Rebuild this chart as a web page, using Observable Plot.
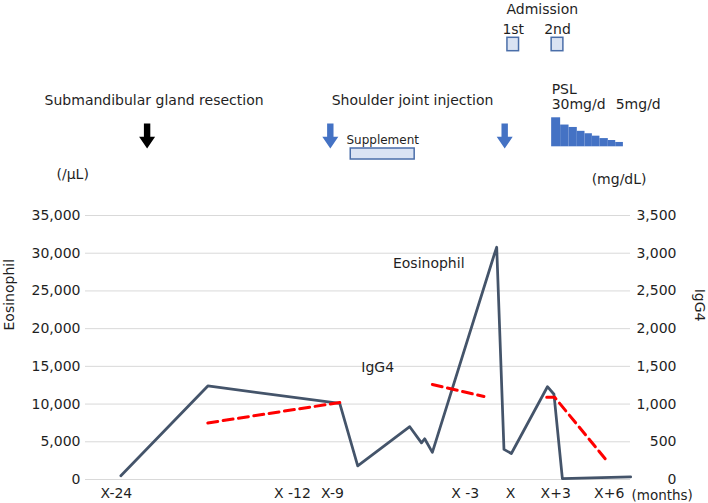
<!DOCTYPE html>
<html><head><meta charset="utf-8">
<script src="https://cdn.jsdelivr.net/npm/d3@7"></script>
<script src="https://cdn.jsdelivr.net/npm/@observablehq/plot@0.6"></script>
<style>
body{margin:0;background:#fff;}
#chart{width:708px;height:503px;}
#chart svg{display:block;}
</style></head><body><div id="chart"></div>
<script>
// ---- Data (time position t = months relative to X, as laid out along the chart's axis) ----
const eosT      = [-26.86, -20.86, -11.76, -10.52, -6.93, -6.12, -5.90, -5.37, -1.12, -0.93, -0.43, 0.08, 2.57, 3.02, 3.60, 8.31];
const eosValues = [500, 12400, 10100, 1800, 7000, 4850, 5400, 3600, 29700, 30800, 4000, 3450, 12300, 11300, 130, 350];

const iggSegment = [1, 1, 2, 2, 3, 3, 3];
const iggT       = [-20.86, -11.76, -5.37, -1.81, 2.52, 3.07, 6.66];
const iggValues  = [750, 1020, 1260, 1100, 1090, 1090, 250];

const eosTicks = [0, 5000, 10000, 15000, 20000, 25000, 30000, 35000];
const iggTicks = [0, 500, 1000, 1500, 2000, 2500, 3000, 3500];
const xTickPos    = [-27.17, -15.02, -12.26, -3.1, 0.03, 3.14, 6.83];
const xTickLabels = ["X-24", "X -12", "X-9", "X -3", "X", "X+3", "X+6"];
const xDomain = [-29.3, 8.3];

const seriesLabelText = ["Eosinophil", "IgG4"];
const seriesLabelT    = [-5.62, -9.14];
const seriesLabelEos  = [28680, 14890];

// Clinical events
const resectionLabel = "Submandibular gland resection";
const resectionT = [-25.05];
const injectionLabel = "Shoulder joint injection";
const injectionT = [-12.41, -0.38];
const supplementLabel = "Supplement";
const supplementStart = [-11.0];
const supplementEnd   = [-6.59];
const admissionLabels = ["1st", "2nd"];
const admissionStart  = [-0.19, 2.86];
const admissionEnd    = [0.61, 3.67];
const pslDose  = [30, 22.5, 20, 16, 13.5, 11, 8.5, 6.5, 4.5];
const pslStart = [2.86, 3.48, 4.06, 4.63, 5.16, 5.67, 6.19, 6.77, 7.28];
const pslEnd   = [3.48, 4.06, 4.63, 5.16, 5.67, 6.19, 6.77, 7.28, 7.81];
const pslLabels = ["30mg/d", "5mg/d"];

// ---- Layout / style ----
const FONT = "DejaVu Sans, sans-serif";
const INK = "#1f1f1f";
const W = 708, ML = 85, MR = 78;
const ratio = 35000 / 3500;
const fmt = d3.format(",");
const rows = {admTitle: 13.3, admLabel: 33.3, admBox: [37.3, 50.7], pslTitle: 93.5, eventLabel: 104,
  pslDoseLabel: 108, arrow: 135.5, suppLabel: 143.5, suppBox: [148, 159], pslBase: 146.3, pslScale: 0.967};

const eos = eosT.map((t, i) => ({t, v: eosValues[i]}));
const igg = iggT.map((t, i) => ({t, v: iggValues[i], seg: iggSegment[i]}));
const seriesLabels = seriesLabelText.map((s, i) => ({s, t: seriesLabelT[i], v: seriesLabelEos[i]}));
const tickLabelOf = new Map(xTickPos.map((p, i) => [p, xTickLabels[i]]));

const arrowSym = {
  draw(ctx) {
    ctx.moveTo(-3.2, -12.5); ctx.lineTo(3.2, -12.5); ctx.lineTo(3.2, 0.8); ctx.lineTo(8, 0.8);
    ctx.lineTo(0, 12.5); ctx.lineTo(-8, 0.8); ctx.lineTo(-3.2, 0.8); ctx.closePath();
  }
};

// ---- Top annotation panel ----
const psl = pslDose.map((d, i) => ({d, x1: pslStart[i], x2: pslEnd[i]}));
const adm = admissionLabels.map((l, i) => ({l, x1: admissionStart[i], x2: admissionEnd[i]}));
const supp = supplementStart.map((s, i) => ({x1: s, x2: supplementEnd[i]}));

const topPanel = Plot.plot({
  width: W, height: 160, marginTop: 0, marginBottom: 0, marginLeft: ML, marginRight: MR,
  style: {fontFamily: FONT, fontSize: "14px", color: INK, background: "white", overflow: "visible"},
  x: {domain: xDomain, axis: null},
  y: {domain: [0, 160], reverse: true, axis: null},
  marks: [
    Plot.text([admissionStart[0]], {x: d => d, y: rows.admTitle, text: () => "Admission", textAnchor: "start", lineAnchor: "bottom", dx: -1, fontSize: 14, fill: INK}),
    Plot.text(adm, {x: d => (d.x1 + d.x2) / 2, y: rows.admLabel, text: "l", lineAnchor: "bottom", fontSize: 14, fill: INK}),
    Plot.rect(adm, {x1: "x1", x2: "x2", y1: rows.admBox[0], y2: rows.admBox[1], fill: "#DAE3F3", stroke: "#4A6EA9", strokeWidth: 1.5}),
    Plot.text([pslStart[0]], {x: d => d, y: rows.pslTitle, text: () => "PSL", textAnchor: "start", lineAnchor: "bottom", fontSize: 14, fill: INK}),
    Plot.text([pslStart[0], pslStart[pslStart.length - 1]], {x: d => d, y: rows.pslDoseLabel, text: (d, i) => pslLabels[i], textAnchor: "start", lineAnchor: "bottom", fontSize: 14, fill: INK}),
    Plot.rect(psl, {x1: "x1", x2: "x2", y1: rows.pslBase, y2: d => rows.pslBase - d.d * rows.pslScale, fill: "#4472C4", inset: 0}),
    Plot.text(resectionT, {x: d => d, y: rows.eventLabel, text: () => resectionLabel, lineAnchor: "bottom", dx: 7, fontSize: 14, fill: INK}),
    Plot.text([d3.mean(injectionT)], {x: d => d, y: rows.eventLabel, text: () => injectionLabel, lineAnchor: "bottom", dx: -5, fontSize: 14, fill: INK}),
    Plot.dot(resectionT, {x: d => d, y: rows.arrow, symbol: arrowSym, fill: "#000", stroke: "none", r: 5}),
    Plot.dot(injectionT, {x: d => d, y: rows.arrow, symbol: arrowSym, fill: "#4472C4", stroke: "none", r: 5}),
    Plot.text(supp, {x: d => (d.x1 + d.x2) / 2, y: rows.suppLabel, text: () => supplementLabel, lineAnchor: "bottom", fontSize: 12, fill: INK}),
    Plot.rect(supp, {x1: "x1", x2: "x2", y1: rows.suppBox[0], y2: rows.suppBox[1], fill: "#DAE3F3", stroke: "#4A6EA9", strokeWidth: 1.5})
  ]
});

// ---- Main dual-axis chart ----
const mainPanel = Plot.plot({
  width: W, height: 343, marginTop: 55, marginBottom: 24, marginLeft: ML, marginRight: MR,
  style: {fontFamily: FONT, fontSize: "14px", color: INK, background: "white", overflow: "visible"},
  x: {domain: xDomain},
  y: {domain: [0, 35000]},
  marks: [
    Plot.gridY(eosTicks, {stroke: "#D9D9D9", strokeOpacity: 1, strokeWidth: 1}),
    Plot.axisY(eosTicks, {anchor: "left", tickSize: 0, tickPadding: 5, tickFormat: fmt, label: null, fontSize: 14}),
    Plot.axisY(iggTicks.map(v => v * ratio), {anchor: "right", tickSize: 0, tickPadding: 46, textAnchor: "end", tickFormat: d => fmt(d / ratio), label: null, fontSize: 14}),
    Plot.axisX(xTickPos, {anchor: "bottom", tickSize: 0, tickPadding: 9, tickFormat: d => tickLabelOf.get(d), label: null, fontSize: 14}),
    Plot.text(["(months)"], {frameAnchor: "bottom-right", textAnchor: "start", lineAnchor: "top", dx: 1, dy: 11, fontSize: 13.5, fill: INK}),
    Plot.text(["Eosinophil"], {frameAnchor: "left", rotate: -90, dx: -76, dy: -17, fontSize: 14, fill: INK}),
    Plot.text(["IgG4"], {frameAnchor: "right", rotate: 90, dx: 69, dy: -26, fontSize: 14, fill: INK}),
    Plot.text(["(/μL)"], {frameAnchor: "top-left", dx: -29, dy: -46, fontSize: 14, fill: INK}),
    Plot.text(["(mg/dL)"], {frameAnchor: "top-right", dx: 16, dy: -41, fontSize: 14, fill: INK}),
    Plot.line(eos, {x: "t", y: "v", stroke: "#44546A", strokeWidth: 2.75}),
    Plot.line(igg, {x: "t", y: d => d.v * ratio, z: "seg", stroke: "#FF0000", strokeWidth: 3, strokeDasharray: "10,5.5"}),
    Plot.text(seriesLabels, {x: "t", y: "v", text: "s", fontSize: 14, fill: INK})
  ]
});

document.getElementById("chart").append(topPanel, mainPanel);
</script>
</body></html>
